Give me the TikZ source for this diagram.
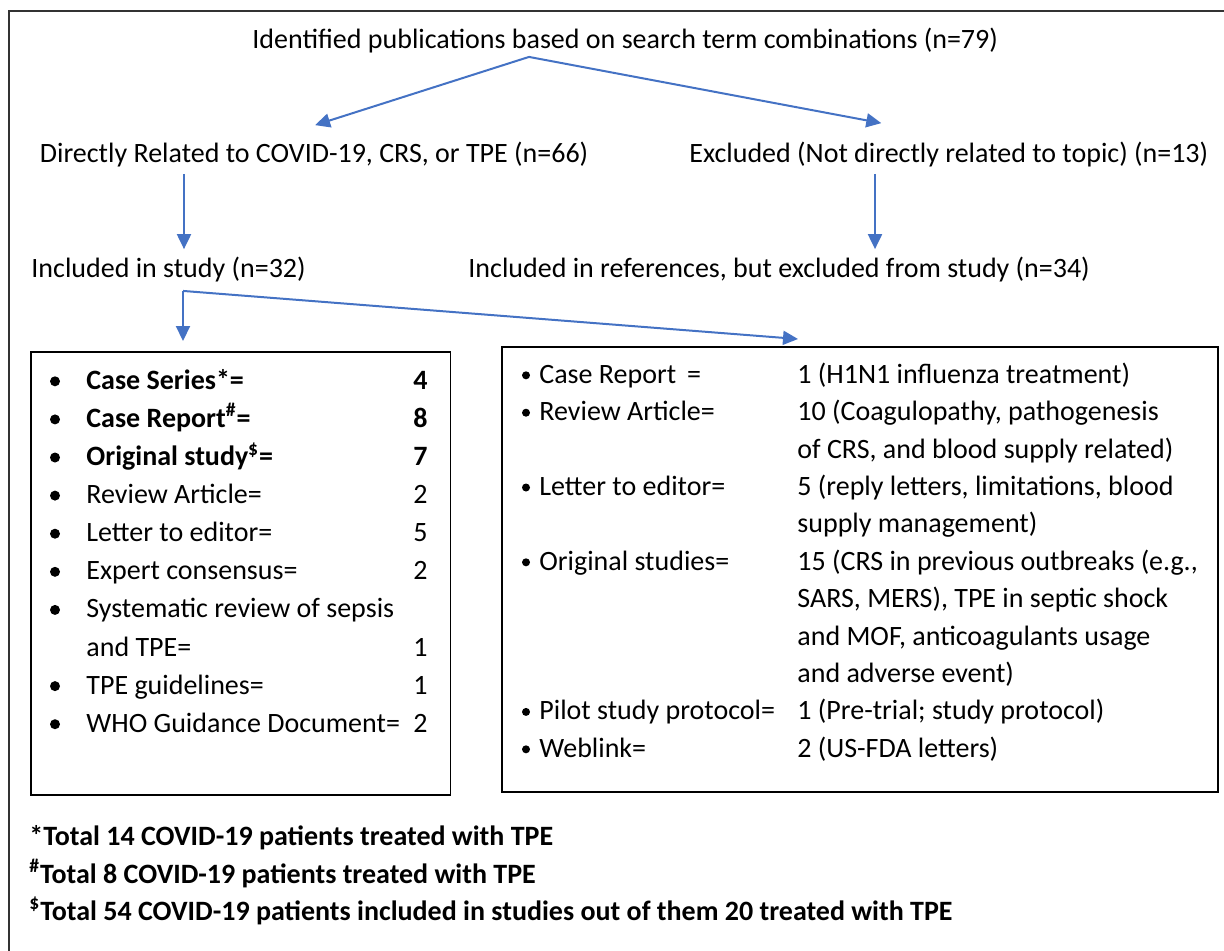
\documentclass[tikz,border=0pt]{standalone}
\usepackage{fontspec}
\setmainfont{Carlito}
\usetikzlibrary{arrows.meta,calc}
\definecolor{flowblue}{HTML}{4472C4}
\begin{document}
\begin{tikzpicture}[x=0.5pt,y=-0.5pt,
        txt/.style={anchor=base west, inner sep=0pt, font=\fontsize{14}{16}\selectfont},
        num/.style={txt, anchor=base east},
        note/.style={txt, font=\fontsize{14}{16}\selectfont\bfseries},
        panel/.style={draw, line width=0.75pt, inner sep=0pt, anchor=north west},
        dot/.style={circle, fill, inner sep=0pt, minimum size=#1},
        link/.style={draw=flowblue, line width=1pt, -{Triangle[length=7.5pt,width=7pt]}}]
    \useasboundingbox (0,0) rectangle (1224,950);
    \draw[line width=1.2pt, black!80] (1240,11) -- (9,11) -- (9,970);

    % flow texts
    \node[txt] (found) at (252,48) {Identified publications based on search term combinations (n=79)};
    \node[txt] (related) at (39.5,162) {Directly Related to COVID-19, CRS, or TPE (n=66)};
    \node[txt] (excluded) at (689,162) {Excluded (Not directly related to topic) (n=13)};
    \node[txt] (instudy) at (31,277) {Included in study (n=32)};
    \node[txt] (inrefs) at (468,277) {Included in references, but excluded from study (n=34)};

    % panels
    \node[panel, minimum width=209.8pt, minimum height=221.5pt] (lbox) at (30,351) {};
    \node[panel, minimum width=358pt, minimum height=222.5pt] (rbox) at (501,346) {};

    % connectors
    \coordinate (split) at ($(found.south west)+(277,4)$);
    \draw[link] (split) -- ($(related.north)+(1,-16)$);
    \draw[link] (split) -- ($(excluded.north)+(-67.5,-18)$);
    \draw[link] ($(related.south west)+(144.5,7)$) -- ($(instudy.north west)+(153,-7)$);
    \draw[link] ($(excluded.south west)+(186,7)$) -- ($(inrefs.north west)+(407,-7)$);
    \coordinate (fork) at ($(instudy.south west)+(152,9)$);
    \draw[link] (fork) -- ($(fork |- lbox.north)+(0,-10)$);
    \draw[link] (fork) -- ($(rbox.north west)+(297,-7)$);

    % included list
    \foreach \k in {0,...,6,8,9}
        \node[dot=5pt] (lb\k) at (55,381.3+38.1*\k) {};
    \foreach \k/\lbl/\n in {
            0/{\bfseries Case Series*=}/{\bfseries 4},
            1/{\bfseries Case Report\textsuperscript{\#}=}/{\bfseries 8},
            2/{\bfseries Original study\textsuperscript{\$}=}/{\bfseries 7},
            3/{Review Article=}/2, 4/{Letter to editor=}/5,
            5/{Expert consensus=}/2, 6/{Systematic review of sepsis}/{},
            7/{and TPE=}/1, 8/{TPE guidelines=}/1,
            9/{WHO Guidance Document=}/2} {
        \node[txt] (lt\k) at (86,389.3+38.1*\k) {\lbl};
        \node[num] (ln\k) at (428,389.3+38.1*\k) {\n};
    }

    % excluded list
    \foreach \r/\lbl in {0/{Case Report\, =}, 1/{Review Article=}, 3/{Letter to editor=},
            5/{Original studies=}, 9/{Pilot study protocol=}, 10/{Weblink=}} {
        \node[dot=4pt] (rb\r) at (526,375.3+37.4*\r) {};
        \node[txt] (rt\r) at (539,383.3+37.4*\r) {\lbl};
    }
    \foreach \r/\val in {0/{1 (H1N1 influenza treatment)},
            1/{10 (Coagulopathy, pathogenesis}, 2/{of CRS, and blood supply related)},
            3/{5 (reply letters, limitations, blood}, 4/{supply management)},
            5/{15 (CRS in previous outbreaks (e.g.,}, 6/{SARS, MERS), TPE in septic shock},
            7/{and MOF, anticoagulants usage}, 8/{and adverse event)},
            9/{1 (Pre-trial; study protocol)}, 10/{2 (US-FDA letters)}}
        \node[txt] (rv\r) at (797,383.3+37.4*\r) {\val};

    % footnotes
    \node[note] (fn1) at (29,845) {*Total 14 COVID-19 patients treated with TPE};
    \node[note] (fn2) at (29,883) {\textsuperscript{\#}Total 8 COVID-19 patients treated with TPE};
    \node[note] (fn3) at (29,920) {\textsuperscript{\$}Total 54 COVID-19 patients included in studies out of them 20 treated with TPE};
\end{tikzpicture}
\end{document}
